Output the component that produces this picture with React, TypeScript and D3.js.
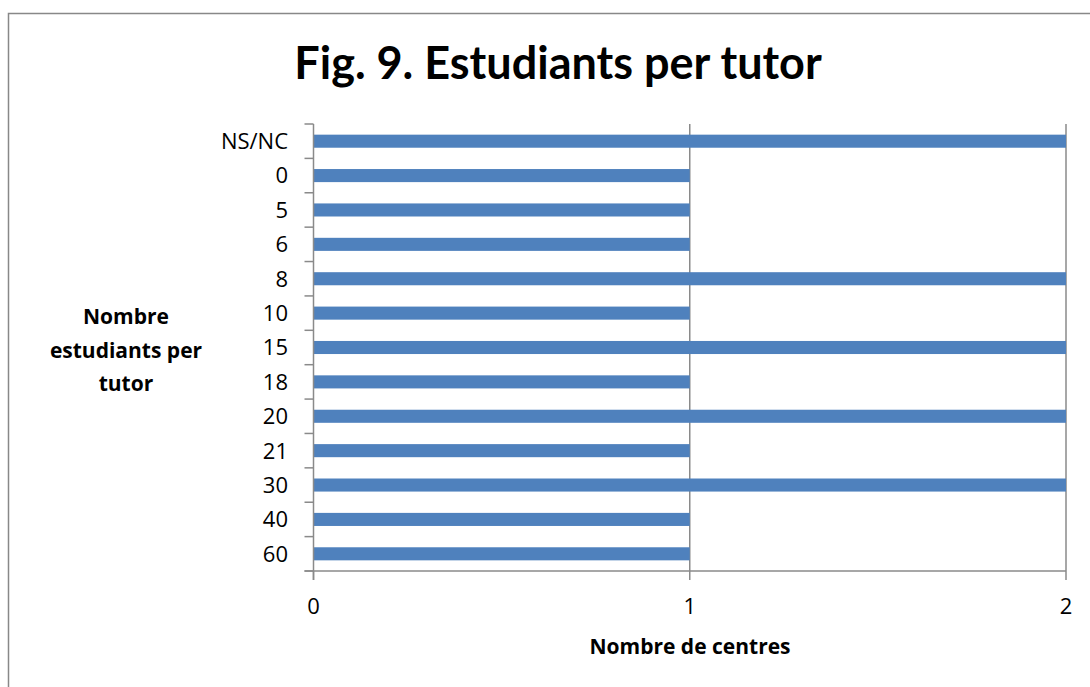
import * as d3 from "d3";

const categories = ["NS/NC", "0", "5", "6", "8", "10", "15", "18", "20", "21", "30", "40", "60"];
const counts = [2, 1, 1, 1, 2, 1, 2, 1, 2, 1, 2, 1, 1];
const xTicks = [0, 1, 2];
const yTitleLines = ["Nombre", "estudiants per", "tutor"];

const TITLE_FONT = "Lato, Carlito, Calibri, sans-serif";
const FONT = "'Open Sans', 'Noto Sans', sans-serif";
const AXIS = "#8a8a8a";
const BAR = "#4f81bd";

const App = () => {
  const width = 1090;
  const height = 687;
  const plot = { left: 313.5, right: 1066, top: 124, bottom: 571 };

  const x = d3.scaleLinear().domain([0, 2]).range([plot.left, plot.right]);
  const y = d3.scaleBand<string>().domain(categories).range([plot.top, plot.bottom]).padding(0);
  const step = y.step();
  const barH = step * 0.38;

  // boundaries between categories, where the little ticks go
  const bounds = d3.range(categories.length + 1).map(i => plot.top + i * step);

  return (
    <svg width={width} height={height} style={{ position: "absolute", left: 0, top: 0, display: "block" }}>
      <rect x={0} y={0} width={width} height={height} fill="#fff" />
      <rect x={8.5} y={13.5} width={width + 20} height={height + 20} fill="none" stroke="#888" strokeWidth={1.5} />

      <text x={558} y={79} textAnchor="middle" fontFamily={TITLE_FONT} fontWeight="bold" fontSize={45} fill="#000">
        Fig. 9. Estudiants per tutor
      </text>

      {/* gridlines */}
      {xTicks.filter(t => t > 0).map(t => (
        <line key={"g" + t} x1={x(t)} x2={x(t)} y1={plot.top} y2={plot.bottom} stroke={AXIS} strokeWidth={1.5} />
      ))}

      {/* bars */}
      {categories.map((c, i) => (
        <rect key={c} x={x(0)} y={(y(c) as number) + (step - barH) / 2} width={x(counts[i]) - x(0)} height={barH} fill={BAR} />
      ))}

      {/* y axis */}
      <line x1={plot.left} x2={plot.left} y1={plot.top} y2={plot.bottom + 9} stroke={AXIS} strokeWidth={1.5} />
      {bounds.map((b, i) => (
        <line key={"yt" + i} x1={plot.left - 9} x2={plot.left} y1={b} y2={b} stroke={AXIS} strokeWidth={1.5} />
      ))}
      {categories.map(c => (
        <text key={"yl" + c} x={288} y={(y(c) as number) + step / 2} dy="0.36em" textAnchor="end" fontFamily={FONT} fontSize={22} fill="#000">
          {c}
        </text>
      ))}

      {/* x axis */}
      <line x1={plot.left - 9} x2={plot.right} y1={plot.bottom} y2={plot.bottom} stroke={AXIS} strokeWidth={1.5} />
      {xTicks.map(t => (
        <g key={"xt" + t}>
          <line x1={x(t)} x2={x(t)} y1={plot.bottom} y2={plot.bottom + 9} stroke={AXIS} strokeWidth={1.5} />
          <text x={x(t)} y={614} textAnchor="middle" fontFamily={FONT} fontSize={22} fill="#000">{t}</text>
        </g>
      ))}

      <text x={690} y={654} textAnchor="middle" fontFamily={FONT} fontWeight="bold" fontSize={21} fill="#000">
        Nombre de centres
      </text>

      {yTitleLines.map((l, i) => (
        <text key={l} x={126} y={324 + i * 33.5} textAnchor="middle" fontFamily={FONT} fontWeight="bold" fontSize={21} fill="#000">
          {l}
        </text>
      ))}
    </svg>
  );
};

export default App;
